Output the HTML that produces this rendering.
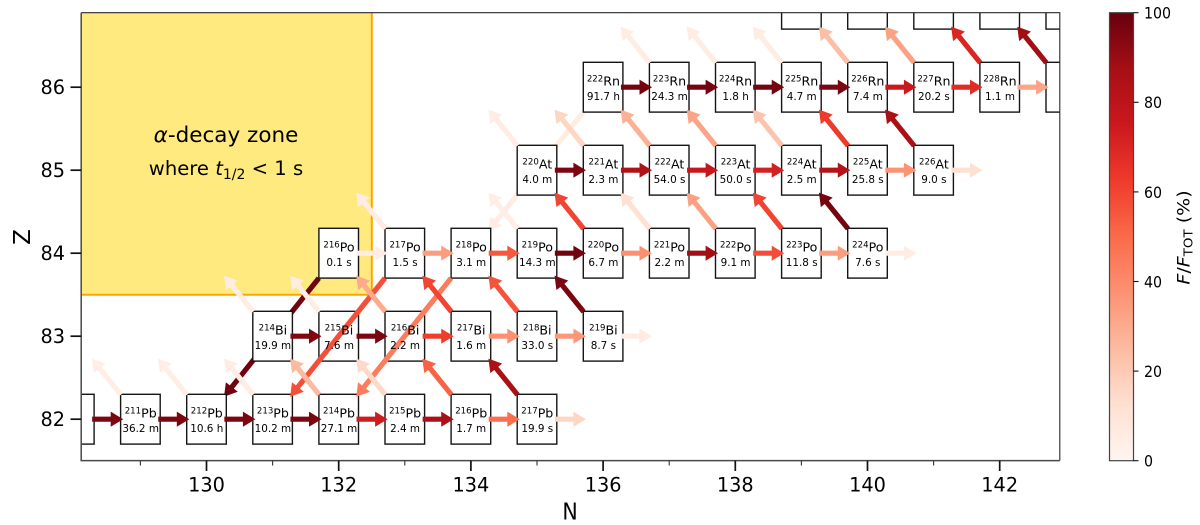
<!DOCTYPE html>
<html lang="en">
<head>
<meta charset="utf-8">
<title>Nuclide flux chart</title>
<style>
html,body{margin:0;padding:0;background:#fff;}
svg{display:block;font-family:"DejaVu Sans","Liberation Sans",sans-serif;}
</style>
</head>
<body>
<svg id="chart" xmlns="http://www.w3.org/2000/svg" width="1200" height="525" viewBox="0 0 1200 525">
  <defs>
    <clipPath id="plot-clip"><rect x="81" y="12.5" width="979" height="448"/></clipPath>
    <linearGradient id="cbar-gradient" x1="0" y1="1" x2="0" y2="0">
      <stop offset="0" stop-color="#fff5f0"/><stop offset="0.125" stop-color="#fee0d2"/>
      <stop offset="0.25" stop-color="#fcbba1"/><stop offset="0.375" stop-color="#fc9272"/>
      <stop offset="0.5" stop-color="#fb6a4a"/><stop offset="0.625" stop-color="#ef3b2c"/>
      <stop offset="0.75" stop-color="#cb181d"/><stop offset="0.875" stop-color="#a50f15"/>
      <stop offset="1" stop-color="#67000d"/>
    </linearGradient>
  </defs>
  <rect x="0" y="0" width="1200" height="525" fill="#fff"/>
  <g id="plot" clip-path="url(#plot-clip)">
    <rect x="81" y="12.5" width="290.8" height="282.2" fill="#ffea80"/>
    <path d="M371.8 12.5V294.7H81" fill="none" stroke="#ffa500" stroke-width="2"/>
    <g id="layer-under"></g>
    <g id="layer-boxes"></g>
    <g id="layer-over"></g>
    <g id="layer-text"></g>
  </g>
  <text x="226" y="142" text-anchor="middle" font-size="21.5" fill="#000"><tspan font-style="italic">α</tspan>-decay zone</text>
  <text x="226" y="175" text-anchor="middle" font-size="19.6" fill="#000">where <tspan font-style="italic">t</tspan><tspan font-size="14" dy="4">1/2</tspan><tspan dy="-4"> &lt; 1 s</tspan></text>
  <g id="axes"></g>
  <rect x="1109.5" y="12.7" width="24" height="448" fill="url(#cbar-gradient)" stroke="#444" stroke-width="1.2"/>
  <g id="cbar-axis"></g>
  <text transform="translate(570,519.3) scale(1,1.12)" text-anchor="middle" font-size="20.5" fill="#000">N</text>
  <text transform="translate(30,237) rotate(-90)" text-anchor="middle" font-size="23" fill="#000">Z</text>
  <text transform="translate(1189.5,237.5) rotate(-90) scale(1.12,1)" text-anchor="middle" font-size="17" fill="#000"><tspan font-style="italic">F</tspan>/<tspan font-style="italic">F</tspan><tspan font-size="12" dy="3">TOT</tspan><tspan dy="-3"> (%)</tspan></text>
</svg>
<script>
// Nuclides on the chart (neutron number, proton number, element, half-life)
const nuclideN = [128,129,130,131,132,133,134,135, 131,132,133,134,135,136, 132,133,134,135,136,137,138,139,140, 135,136,137,138,139,140,141, 136,137,138,139,140,141,142,143, 139,140,141,142,143];
const nuclideZ = [82,82,82,82,82,82,82,82, 83,83,83,83,83,83, 84,84,84,84,84,84,84,84,84, 85,85,85,85,85,85,85, 86,86,86,86,86,86,86,86, 87,87,87,87,87];
const nuclideElement = ['','Pb','Pb','Pb','Pb','Pb','Pb','Pb', 'Bi','Bi','Bi','Bi','Bi','Bi', 'Po','Po','Po','Po','Po','Po','Po','Po','Po', 'At','At','At','At','At','At','At', 'Rn','Rn','Rn','Rn','Rn','Rn','Rn','', '','','','',''];
const nuclideHalfLife = ['','36.2 m','10.6 h','10.2 m','27.1 m','2.4 m','1.7 m','19.9 s', '19.9 m','7.6 m','2.2 m','1.6 m','33.0 s','8.7 s', '0.1 s','1.5 s','3.1 m','14.3 m','6.7 m','2.2 m','9.1 m','11.8 s','7.6 s', '4.0 m','2.3 m','54.0 s','50.0 s','2.5 m','25.8 s','9.0 s', '91.7 h','24.3 m','1.8 h','4.7 m','7.4 m','20.2 s','1.1 m','', '','','','',''];

// Neutron capture (N,Z) -> (N+1,Z), flux in percent
const captureN = [128,129,130,131,132,133,134,135, 131,132,133,134,135,136, 132,133,134,135,136,137,138,139,140, 135,136,137,138,139,140,141, 136,137,138,139,140,141,142];
const captureZ = [82,82,82,82,82,82,82,82, 83,83,83,83,83,83, 84,84,84,84,84,84,84,84,84, 85,85,85,85,85,85,85, 86,86,86,86,86,86,86];
const captureFlux = [96,96,96,96,74,86,49,16, 95,96,62,38,36,6, 5,34,55,98,38,88,58,34,5, 96,84,76,72,82,37,12, 97,97,97,96,75,68,32];

// Beta decay (N,Z) -> (N-1,Z+1), flux in percent
const betaN = [129,130,131,132,133,134,135, 131,132,133,134,135,136, 133,135,136,137,138,139,140, 135,136,137,138,139,140,141, 137,138,139,140,141,142,143];
const betaZ = [82,82,82,82,82,82,82, 83,83,83,83,83,83, 84,84,84,84,84,84,84, 85,85,85,85,85,85,85, 86,86,86,86,86,86,86];
const betaFlux = [4,4,5,25,15,52,86, 5,5,30,60,56,96, 5,4,60,12,33,60,97, 5,16,28,32,22,63,86, 5,5,5,24,33,70,88];

// Alpha decay (N,Z) -> (N-2,Z-2), flux in percent
const alphaN = [132,133,134,136];
const alphaZ = [84,84,84,86];
const alphaFlux = [98,57,44,5];
const alphaOverBoxes = [false,true,true,false];

// Axis ticks
const xMajorTicks = [130,132,134,136,138,140,142];
const xMinorTicks = [129,131,133,135,137,139,141];
const yMajorTicks = [82,83,84,85,86];
const colorbarTicks = [0,20,40,60,80,100];
const redsStops = ['#fff5f0','#fee0d2','#fcbba1','#fc9272','#fb6a4a','#ef3b2c','#cb181d','#a50f15','#67000d'];

const NS = 'http://www.w3.org/2000/svg';
const xN = n => 206.5 + 66.1 * (n - 130);
const yZ = z => 419.2 - 83 * (z - 82);
const yFlux = f => 460.7 - 4.48 * f;

function hexRgb(h){return [1,3,5].map(i => parseInt(h.substr(i,2),16));}
function fluxColor(f){
  const t = Math.max(0, Math.min(1, f / 100)) * (redsStops.length - 1);
  const i = Math.min(redsStops.length - 2, Math.floor(t));
  const a = hexRgb(redsStops[i]), b = hexRgb(redsStops[i + 1]);
  const c = a.map((v, k) => Math.round(v + (b[k] - v) * (t - i)));
  return 'rgb(' + c.join(',') + ')';
}
function make(tag, attrs, parent){
  const el = document.createElementNS(NS, tag);
  for (const k in attrs) el.setAttribute(k, attrs[k]);
  parent.appendChild(el);
  return el;
}
function arrowPoints(x0, y0, x1, y1){
  const dx = x1 - x0, dy = y1 - y0, len = Math.hypot(dx, dy);
  const ux = dx / len, uy = dy / len, px = -uy, py = ux;
  const sw = 2.6, hw = 7.6, hl = 12.5;
  const bx = x1 - ux * hl, by = y1 - uy * hl;
  const p = [[x0 + px * sw, y0 + py * sw],[bx + px * sw, by + py * sw],[bx + px * hw, by + py * hw],[x1, y1],[bx - px * hw, by - py * hw],[bx - px * sw, by - py * sw],[x0 - px * sw, y0 - py * sw]];
  return p.map(q => q[0].toFixed(2) + ',' + q[1].toFixed(2)).join(' ');
}

const layerUnder = document.getElementById('layer-under');
const layerBoxes = document.getElementById('layer-boxes');
const layerOver = document.getElementById('layer-over');
const layerText = document.getElementById('layer-text');
const axesG = document.getElementById('axes');
const cbarG = document.getElementById('cbar-axis');

// Boxes and labels
nuclideN.forEach((n, i) => {
  const cx = xN(n), cy = yZ(nuclideZ[i]);
  const box = make('rect', {x: cx - 19.8, y: cy - 24.9, width: 39.6, height: 49.8, fill: '#fff', stroke: '#151515', 'stroke-width': 1.4}, layerBoxes);
  
  
  if (nuclideElement[i]) {
    const label = make('text', {x: cx + 0.3, y: cy - 1.5, 'text-anchor': 'middle', 'font-size': 12.6, fill: '#000'}, layerText);
    
    
    const sup = make('tspan', {'font-size': 8.6, dy: -4.4}, label);
    sup.textContent = String(n + nuclideZ[i]);
    const el = make('tspan', {dy: 4.4}, label);
    el.textContent = nuclideElement[i];
    const hl = make('text', {x: cx + 0.3, y: cy + 12.8, 'text-anchor': 'middle', 'font-size': 10.4, fill: '#000'}, layerText);
    
    
    hl.textContent = nuclideHalfLife[i];
  }
});

// Alpha decay arrows
alphaN.forEach((n, i) => {
  const z = alphaZ[i];
  const a = make('polygon', {points: arrowPoints(xN(n - 0.3), yZ(z - 0.3), xN(n - 2 + 0.265), yZ(z - 2 + 0.27)), fill: fluxColor(alphaFlux[i])}, alphaOverBoxes[i] ? layerOver : layerUnder);
  
  
});
// Beta decay arrows
betaN.forEach((n, i) => {
  const z = betaZ[i];
  const a = make('polygon', {points: arrowPoints(xN(n - 0.295), yZ(z + 0.295), xN(n - 1 + 0.265), yZ(z + 1 - 0.27)), fill: fluxColor(betaFlux[i])}, layerOver);
  
  
});
// Neutron capture arrows
captureN.forEach((n, i) => {
  const y = yZ(captureZ[i]);
  const a = make('polygon', {points: arrowPoints(xN(n + 0.27), y, xN(n + 0.74), y), fill: fluxColor(captureFlux[i])}, layerOver);
  
  
});

// Axes frame
const frameTopRight = make('path', {d: 'M81.2 12.7H1059.8V460.6', fill: 'none', stroke: '#2a2a2a', 'stroke-width': 1.1}, axesG);


const frameBottomLeft = make('path', {d: 'M81.2 12.7V460.6H1059.8', fill: 'none', stroke: '#4a4a4a', 'stroke-width': 1.5}, axesG);



xMajorTicks.forEach(v => {
  const x = xN(v);
  const t = make('line', {x1: x, x2: x, y1: 460.6, y2: 471, stroke: '#111', 'stroke-width': 1.7}, axesG);
  
  
  const l = make('text', {x: x, y: 491.7, 'text-anchor': 'middle', 'font-size': 19.3, fill: '#000'}, axesG);
  
  
  l.textContent = String(v);
});
xMinorTicks.forEach(v => {
  const x = xN(v);
  const t = make('line', {x1: x, x2: x, y1: 460.6, y2: 465.5, stroke: '#333', 'stroke-width': 1.1}, axesG);
  
  
});
yMajorTicks.forEach(v => {
  const y = yZ(v);
  const t = make('line', {x1: 70.5, x2: 81.2, y1: y, y2: y, stroke: '#111', 'stroke-width': 1.7}, axesG);
  
  
  const l = make('text', {x: 65, y: y + 7, 'text-anchor': 'end', 'font-size': 19.3, fill: '#000'}, axesG);
  
  
  l.textContent = String(v);
});
colorbarTicks.forEach(v => {
  const y = yFlux(v);
  const t = make('line', {x1: 1133.5, x2: 1138.5, y1: y, y2: y, stroke: '#111', 'stroke-width': 1.1}, cbarG);
  
  
  const l = make('text', {transform: 'translate(1144,' + (y + 5.9) + ') scale(1,1.1)', 'font-size': 14.2, fill: '#000'}, cbarG);
  
  
  l.textContent = String(v);
});
</script>
</body>
</html>
